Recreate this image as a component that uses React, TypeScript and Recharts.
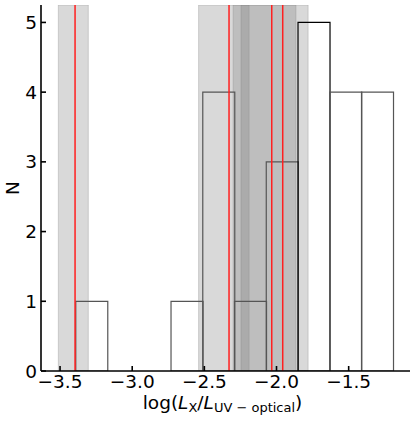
import React from 'react';
import {
  ComposedChart,
  Bar,
  Cell,
  XAxis,
  YAxis,
  ReferenceArea,
  ReferenceLine,
} from 'recharts';

// histogram bins (centres), counts per bin
const binCenters = [-3.281, -3.061, -2.841, -2.621, -2.401, -2.181, -1.961, -1.741, -1.521, -1.301];
const binCounts = [1, 0, 0, 1, 4, 1, 3, 5, 4, 4];

// shaded uncertainty bands
const bandStarts = [-3.512, -2.54, -2.301, -2.246];
const bandEnds = [-3.304, -2.19, -1.865, -1.781];

// red vertical markers
const redLines = [-3.396, -2.329, -2.033, -1.957];

const xTicks = [-3.5, -3.0, -2.5, -2.0, -1.5];
const yTicks = [0, 1, 2, 3, 4, 5];
const xDomain = [-3.632, -1.075];
const yDomain = [0, 5.25];

const histData = binCenters.map((x, i) => ({ x, n: binCounts[i] }));

const fmt = (v: number) => v.toFixed(1).replace('-', '\u2212');
const frame = { stroke: '#000', strokeWidth: 1.6 };
const FS = 18.5;

function XLabel(props: any) {
  const vb = props.viewBox || { x: 41, width: 369 };
  const cx = vb.x + vb.width / 2 - 3;
  return (
    <text x={cx} y={409} textAnchor="middle" fontSize={FS} fill="#000">
      log(
      <tspan fontStyle="italic">L</tspan>
      <tspan fontSize={13} dy={2.5}>X</tspan>
      <tspan dy={-2.5}>/</tspan>
      <tspan fontStyle="italic">L</tspan>
      <tspan fontSize={13} dy={2.5}>UV − optical</tspan>
      <tspan dy={-2.5}>)</tspan>
    </text>
  );
}

function YLabel() {
  return (
    <text x={19} y={188} transform="rotate(-90 19 188)" textAnchor="middle" fontSize={FS} fill="#000">
      N
    </text>
  );
}

export default function App() {
  return (
    <div style={{ width: 415, height: 422 }}>
      <style>{`body{margin:0}`}</style>
      <ComposedChart
        width={415}
        height={422}
        data={histData}
        margin={{ top: 5, right: 5, bottom: 0, left: 0 }}
        barCategoryGap={0}
        barGap={0}
        style={{ fontFamily: 'DejaVu Sans, sans-serif' }}
      >
        <XAxis
          dataKey="x"
          type="number"
          domain={xDomain}
          ticks={xTicks}
          allowDataOverflow
          height={51}
          tickFormatter={fmt}
          tickSize={-5}
          tickMargin={9}
          tick={{ fill: '#000', fontSize: FS }}
          tickLine={frame}
          axisLine={frame}
          label={<XLabel />}
        />
        <XAxis
          xAxisId="top"
          orientation="top"
          type="number"
          domain={xDomain}
          ticks={xTicks}
          allowDataOverflow
          height={0}
          tick={false}
          tickSize={-5}
          tickLine={frame}
          axisLine={frame}
        />
        <YAxis
          type="number"
          domain={yDomain}
          ticks={yTicks}
          allowDataOverflow
          width={41}
          tickSize={-5}
          tickMargin={9}
          tick={{ fill: '#000', fontSize: FS }}
          tickLine={frame}
          axisLine={frame}
          label={<YLabel />}
        />
        <YAxis
          yAxisId="right"
          orientation="right"
          type="number"
          domain={yDomain}
          ticks={yTicks}
          allowDataOverflow
          width={0}
          tick={false}
          tickSize={-5}
          tickLine={frame}
          axisLine={frame}
        />
        {bandStarts.map((s, i) => (
          <ReferenceArea
            key={'b' + i}
            x1={s}
            x2={bandEnds[i]}
            fill="#808080"
            fillOpacity={0.3}
            stroke="#808080"
            strokeOpacity={0.3}
            ifOverflow="hidden"
          />
        ))}
        <Bar dataKey="n" fill="none" isAnimationActive={false}>
          {histData.map((d, i) => (
            <Cell key={i} stroke={d.n === 5 ? '#000' : '#555'} strokeWidth={1.2} fill="none" />
          ))}
        </Bar>
        {redLines.map((x, i) => (
          <ReferenceLine key={'r' + i} x={x} stroke="#ff2020" strokeWidth={1.5} ifOverflow="hidden" />
        ))}
      </ComposedChart>
    </div>
  );
}
